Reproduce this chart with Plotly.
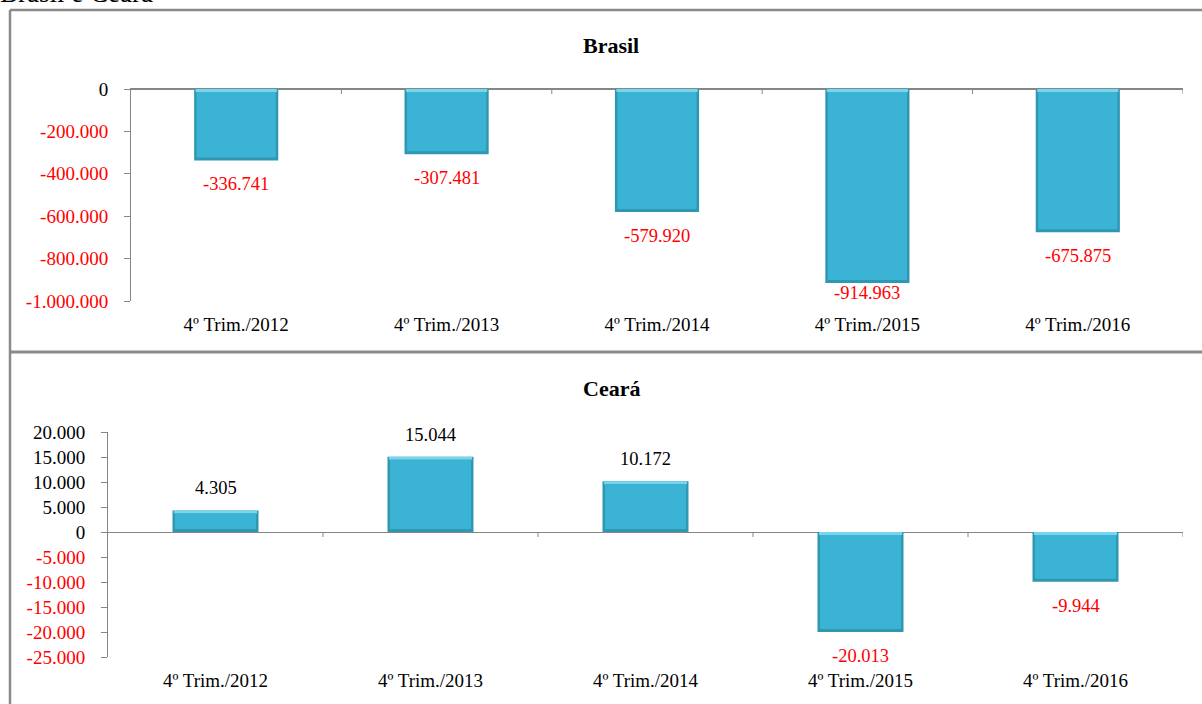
import plotly.graph_objects as go

# ---------------- data ----------------
categories = ["4º Trim./2012", "4º Trim./2013", "4º Trim./2014", "4º Trim./2015", "4º Trim./2016"]
brasil_values = [-336741, -307481, -579920, -914963, -675875]
ceara_values = [4305, 15044, 10172, -20013, -9944]
brasil_ticks = [0, -200000, -400000, -600000, -800000, -1000000]
ceara_ticks = [20000, 15000, 10000, 5000, 0, -5000, -10000, -15000, -20000, -25000]
page_title = "Brasil e Ceará"
panel_titles = ["Brasil", "Ceará"]

# ---------------- style ----------------
W, H = 1202, 704
FONT = "Liberation Serif, Times New Roman, serif"
RED = "#ff0000"
BLACK = "#000000"
AXIS = "#868686"
BAR_FACE = "#3ab3d4"
BAR_EDGE = "#3097b2"
BAR_LIGHT = "#76d6ed"
BORDER = "#8a8a8a"
BAR_W = 0.4


def fmt(v):
    return f"{v:,}".replace(",", ".")


def colored(v):
    col = RED if v < 0 else BLACK
    return f"<span style='color:{col}'>{fmt(v)}</span>"


def px_y(py):
    return 1 - py / H


# panel geometry (pixels)
panels = [
    dict(vals=brasil_values, ticks=brasil_ticks, x0=131, x1=1183, ytop=89, ybot=301,
         rng=[-1000000, 0], title_y=45, standoff=10),
    dict(vals=ceara_values, ticks=ceara_ticks, x0=108, x1=1183, ytop=432, ybot=657,
         rng=[-25000, 20000], title_y=388, standoff=10),
]

fig = go.Figure()
xidx = list(range(len(categories)))
bounds = [i + 0.5 for i in xidx]

for k, p in enumerate(panels):
    xa = "x" if k == 0 else "x2"
    ya = "y" if k == 0 else "y2"
    upp = (p["rng"][1] - p["rng"][0]) / (p["ybot"] - p["ytop"])  # data units per pixel
    col_px = (p["x1"] - p["x0"]) / len(categories)
    tops = [max(v, 0) for v in p["vals"]]
    bots = [min(v, 0) for v in p["vals"]]
    # outer (edge) of the bevelled bar
    fig.add_trace(go.Bar(
        x=xidx, y=[t - b for t, b in zip(tops, bots)], base=bots, width=BAR_W,
        xaxis=xa, yaxis=ya, marker=dict(color=BAR_EDGE, line=dict(width=0)),
        showlegend=False, hoverinfo="skip",
    ))
    # light top bevel
    fig.add_trace(go.Bar(
        x=xidx, y=[3 * upp] * len(tops), base=[t - 3 * upp for t in tops],
        width=BAR_W - 3 / col_px, xaxis=xa, yaxis=ya,
        marker=dict(color=BAR_LIGHT, line=dict(width=0)), showlegend=False, hoverinfo="skip",
    ))
    # main face
    fig.add_trace(go.Bar(
        x=xidx, y=[(t - 3 * upp) - (b + 3 * upp) for t, b in zip(tops, bots)],
        base=[b + 3 * upp for b in bots], width=BAR_W - 5 / col_px, xaxis=xa, yaxis=ya,
        marker=dict(color=BAR_FACE, line=dict(width=0)), showlegend=False, hoverinfo="skip",
    ))
    # small tick marks below the zero line at category boundaries
    fig.add_trace(go.Scatter(
        x=bounds, y=[0] * len(bounds), mode="markers", xaxis=xa, yaxis=ya,
        marker=dict(size=0.1, color=AXIS),
        error_y=dict(type="data", symmetric=False, array=[0] * len(bounds),
                     arrayminus=[5 * upp] * len(bounds),
                     color=AXIS, thickness=1, width=0),
        showlegend=False, hoverinfo="skip", cliponaxis=False,
    ))
    # value labels
    for i, v in enumerate(p["vals"]):
        bar_end_px = p["ytop"] + (p["rng"][1] - v) / upp
        if v >= 0:
            shift = 22
        else:
            gap = p["ybot"] - bar_end_px
            shift = -24 if gap > 20 else -(gap - 8)
        fig.add_annotation(
            x=i, y=v, xref=xa, yref=ya, text=fmt(v), showarrow=False,
            yshift=shift, yanchor="middle",
            font=dict(family=FONT, size=18.5, color=RED if v < 0 else BLACK),
        )
    # panel title
    fig.add_annotation(
        x=611 / W, y=px_y(p["title_y"]), xref="paper", yref="paper",
        text=f"<b>{panel_titles[k]}</b>", showarrow=False, yanchor="middle",
        font=dict(family=FONT, size=22, color=BLACK),
    )


def xaxis_cfg(p):
    return dict(
        domain=[p["x0"] / W, p["x1"] / W],
        range=[-0.5, len(categories) - 0.5], tickmode="array", tickvals=xidx, ticktext=categories,
        showgrid=False, zeroline=False, showline=False, ticks="", automargin=False,
        tickfont=dict(family=FONT, size=19, color=BLACK), ticklabelstandoff=p["standoff"],
    )


def yaxis_cfg(p):
    return dict(
        domain=[px_y(p["ybot"]), px_y(p["ytop"])], range=p["rng"],
        tickmode="array", tickvals=p["ticks"], ticktext=[colored(v) for v in p["ticks"]],
        showgrid=False, showline=True, linecolor=AXIS, linewidth=1, ticks="outside",
        ticklen=6, tickcolor=AXIS, tickwidth=1, zeroline=True, zerolinecolor=AXIS,
        zerolinewidth=1, tickfont=dict(family=FONT, size=19), ticklabelstandoff=12,
        automargin=False,
    )


p0, p1 = panels
fig.update_layout(
    width=W, height=H, margin=dict(l=0, r=0, t=0, b=0, autoexpand=False),
    paper_bgcolor="white", plot_bgcolor="white", barmode="overlay",
    xaxis=dict(anchor="y", **xaxis_cfg(p0)),
    xaxis3=dict(domain=[p0["x0"] / W, p0["x1"] / W], anchor="y", overlaying="x", side="top",
                range=[-0.5, len(categories) - 0.5], showline=True, linecolor=AXIS, linewidth=1,
                ticks="", showticklabels=False, showgrid=False, zeroline=False, automargin=False),
    yaxis=dict(anchor="x", **yaxis_cfg(p0)),
    xaxis2=dict(anchor="y2", **xaxis_cfg(p1)),
    yaxis2=dict(anchor="x2", **yaxis_cfg(p1)),
)
# invisible trace so the top-edge axis (zero line of the Brasil panel) is drawn
fig.add_trace(go.Scatter(x=[0], y=[0], xaxis="x3", yaxis="y", mode="markers",
                         marker=dict(size=0.1, opacity=0), showlegend=False, hoverinfo="skip"))

# page title (partly cut off at the top, as in the original)
fig.add_annotation(x=0, y=px_y(10), xref="paper", yref="paper", text=page_title,
                   showarrow=False, xanchor="left", yanchor="bottom", xshift=-2,
                   font=dict(family=FONT, size=27, color=BLACK))

# frame lines
fig.add_shape(type="line", xref="paper", yref="paper", x0=10 / W, x1=1.02, y0=px_y(10), y1=px_y(10),
              line=dict(color=BORDER, width=2.5))
fig.add_shape(type="line", xref="paper", yref="paper", x0=10 / W, x1=10 / W, y0=px_y(10), y1=-0.05,
              line=dict(color=BORDER, width=2.5))
fig.add_shape(type="line", xref="paper", yref="paper", x0=10 / W, x1=1.02, y0=px_y(352), y1=px_y(352),
              line=dict(color=BORDER, width=3))

fig.write_html("out.html", config={"displayModeBar": False},
               post_script="document.body.style.margin='0';")
